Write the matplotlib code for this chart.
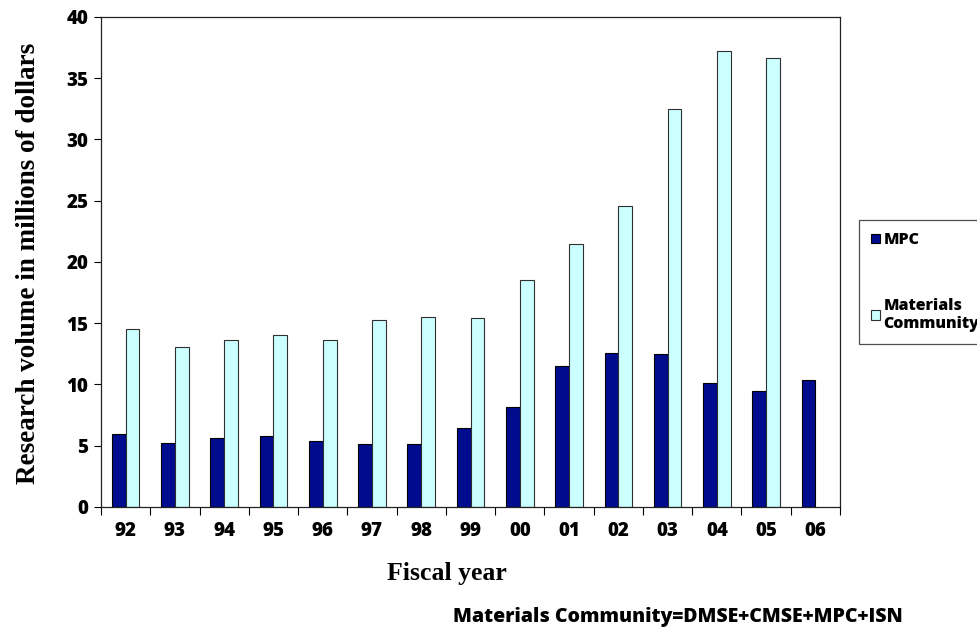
import numpy as np
import matplotlib.pyplot as plt
from matplotlib.patches import Patch

# data
years = ["92", "93", "94", "95", "96", "97", "98", "99",
         "00", "01", "02", "03", "04", "05", "06"]
mpc = [5.95, 5.25, 5.6, 5.8, 5.35, 5.15, 5.15, 6.45,
       8.2, 11.5, 12.55, 12.45, 10.15, 9.5, 10.35]
materials = [14.5, 13.1, 13.65, 14.05, 13.65, 15.3, 15.5, 15.4,
             18.5, 21.5, 24.55, 32.5, 37.2, 36.65, np.nan]

sans = ["Open Sans", "DejaVu Sans"]
serif = ["Liberation Serif", "DejaVu Serif"]

fig = plt.figure(figsize=(9.77, 6.27), dpi=100)
ax = fig.add_axes([0.1034, 0.1914, 0.7564, 0.7815])

x = np.arange(len(years))
w = 0.28
ax.bar(x - w / 2, mpc, w, color="#000c8e", edgecolor="#000000", linewidth=0.8)
ax.bar(x + w / 2, materials, w, color="#ccffff", edgecolor="#303030", linewidth=0.8)

ax.set_xlim(-0.5, len(years) - 0.5)
ax.set_ylim(0, 40)
ax.set_yticks(range(0, 41, 5))
ax.set_yticklabels([str(v) for v in range(0, 41, 5)], family=sans,
                   fontweight=800, fontsize=13.5)
# ticks sit between categories, labels at the centres
ax.set_xticks(np.arange(-0.5, len(years), 1.0))
ax.set_xticklabels([])
ax.set_xticks(x, minor=True)
ax.set_xticklabels(years, minor=True, family=sans, fontweight=800, fontsize=13.5)
ax.tick_params(axis="x", which="major", length=6, width=0.8, direction="out")
ax.tick_params(axis="x", which="minor", length=0, pad=10)
ax.tick_params(axis="y", length=5, width=0.8, pad=4)

for s in ax.spines.values():
    s.set_linewidth(0.9)
    s.set_color("#222222")

fig.text(0.029, 0.58, "Research volume in millions of dollars", rotation=90,
         ha="center", va="center", family=serif, fontweight="bold", fontsize=19.5)
fig.text(0.4575, 0.086, "Fiscal year", ha="center", va="center",
         family=serif, fontweight="bold", fontsize=18.5)
fig.text(0.4635, 0.016, "Materials Community=DMSE+CMSE+MPC+ISN", ha="left",
         va="center", family=sans, fontweight=800, fontsize=14.0)

handles = [Patch(facecolor="#000c8e", edgecolor="#000000", linewidth=0.8),
           Patch(facecolor="#ccffff", edgecolor="#303030", linewidth=0.8)]
leg = fig.legend(handles, ["MPC", "Materials\nCommunity"],
                 loc="upper left", bbox_to_anchor=(0.879, 0.649),
                 prop={"family": sans, "weight": 800, "size": 11.5},
                 frameon=True, fancybox=False, edgecolor="#222222",
                 handlelength=0.55, handleheight=0.55, handletextpad=0.25,
                 labelspacing=3.1, borderpad=0.75, borderaxespad=0)
leg.get_frame().set_linewidth(0.9)

plt.savefig("out.png", dpi=100)
